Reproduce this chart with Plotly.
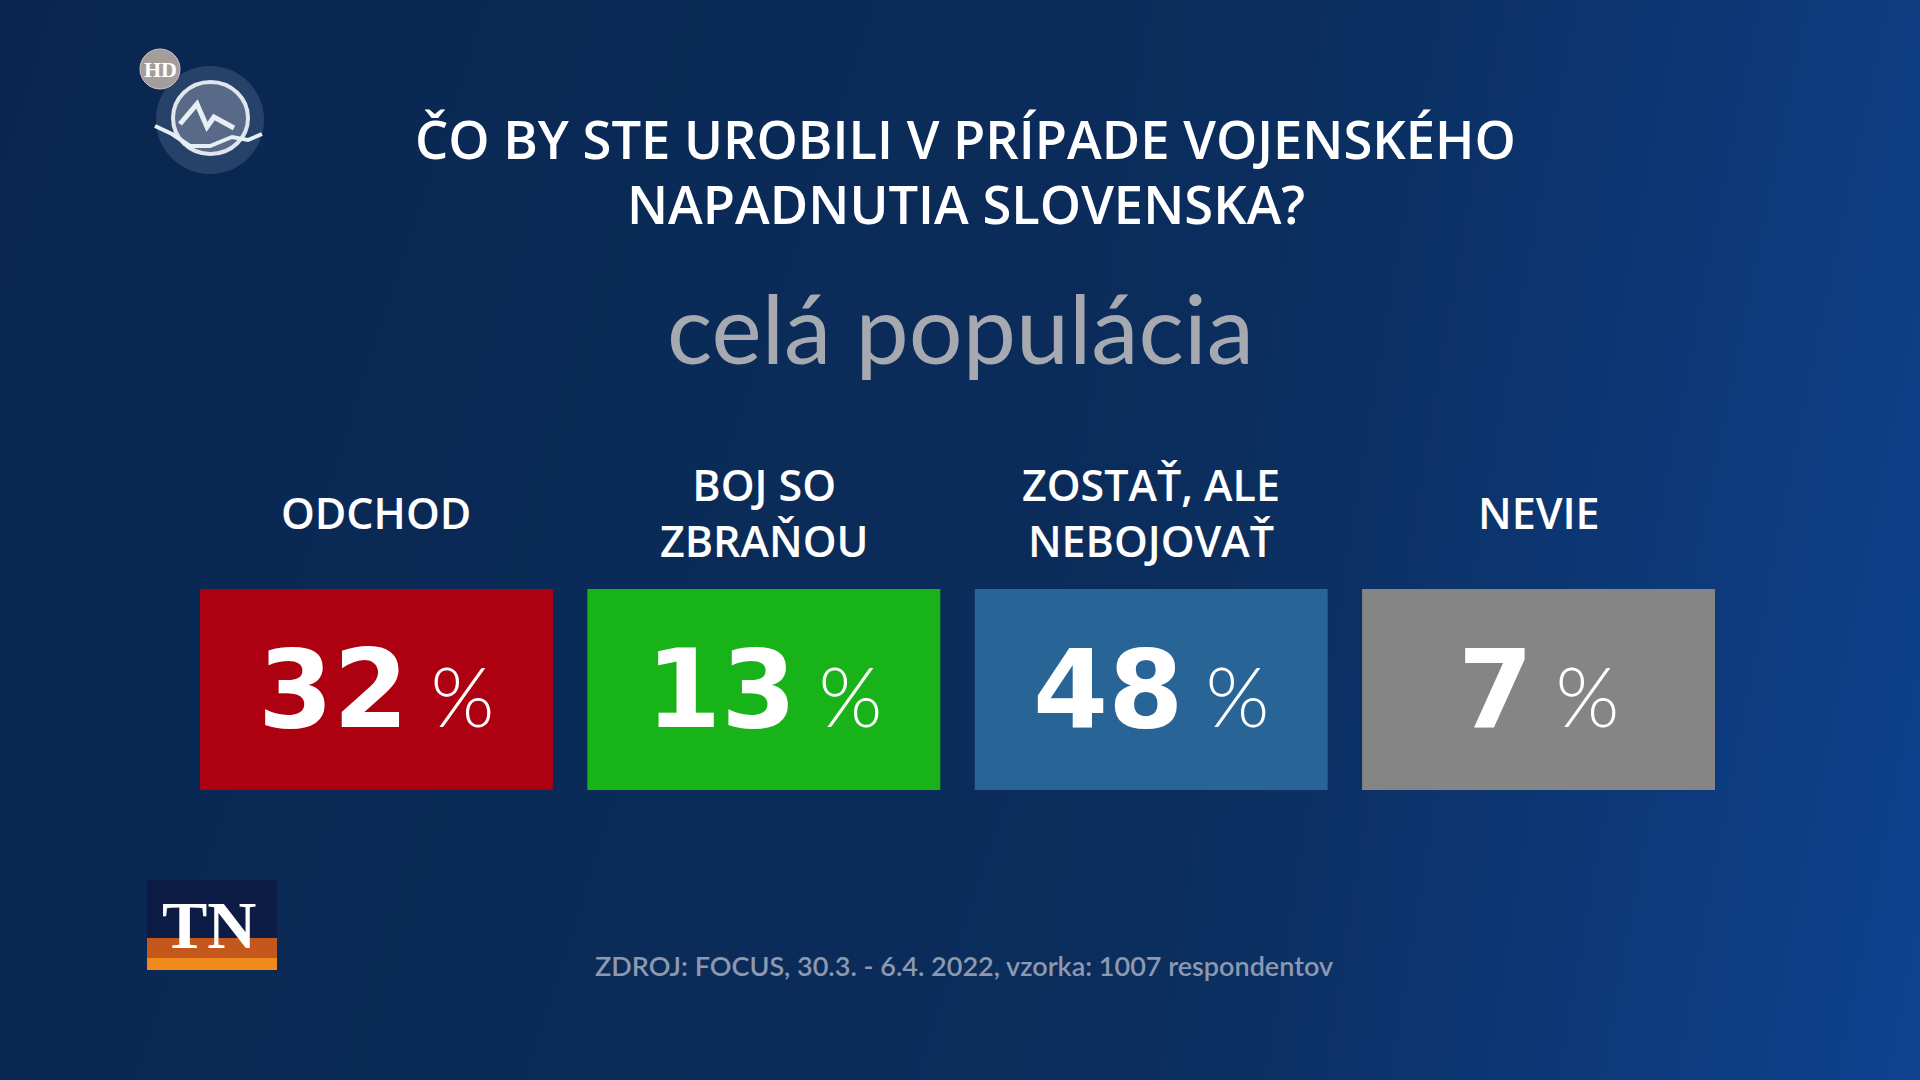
"""
Survey tiles: what would people do if Slovakia were invaded.
"""

import plotly.graph_objects as go

# data
categories = ["ODCHOD", "BOJ SO<br>ZBRAŇOU", "ZOSTAŤ, ALE<br>NEBOJOVAŤ", "NEVIE"]
values = [32, 13, 48, 7]
tile_height = [1, 1, 1, 1]
tile_colors = ["#ad0011", "#18b318", "#296497", "#858585"]

title_lines = ["ČO BY STE UROBILI V PRÍPADE VOJENSKÉHO", "NAPADNUTIA SLOVENSKA?"]
subtitle = "celá populácia"
source = "ZDROJ: FOCUS, 30.3. - 6.4. 2022, vzorka: 1007 respondentov"

# background gradient (corners, left -> right)
bg_x = [0, 0.55, 1]
bg_y = [0, 1]
bg_z = [[0.1, 0.4, 1.0],
        [0.0, 0.3, 0.85]]

W, H = 1920, 1080


def px(x, y):
    """pixel position -> paper coords"""
    return x / W, 1 - y / H


fig = go.Figure()

# background on the first axes so the tiles sit on top of it
fig.add_trace(go.Heatmap(
    x=bg_x, y=bg_y, z=bg_z, zsmooth="best", showscale=False,
    colorscale=[[0, "#0a2650"], [0.5, "#0b2f60"], [1, "#0e4290"]],
    hoverinfo="skip", xaxis="x", yaxis="y",
))

# the four tiles
fig.add_trace(go.Bar(
    x=categories, y=tile_height, width=0.911,
    marker=dict(color=tile_colors, line=dict(width=0)),
    hoverinfo="skip", xaxis="x2", yaxis="y2",
))

annotations = []

# numbers inside tiles
for cat, v in zip(categories, values):
    annotations.append(dict(
        x=cat, y=0.50, xref="x2", yref="y2", showarrow=False,
        text=(f"<b>{v}</b>"
              f"<span style='font-size:82px;font-weight:300;font-family:Lato'> %</span>"),
        font=dict(family="DejaVu Sans", size=108, color="white"),
        xanchor="center", yanchor="middle",
    ))
    # label above tile
    annotations.append(dict(
        x=cat, y=1.383, xref="x2", yref="y2", showarrow=False,
        text=cat, align="center",
        font=dict(family="Open Sans", size=43, color="white", weight=600),
        xanchor="center", yanchor="middle",
    ))

# title lines
for line, ty in zip(title_lines, [0.8718, 0.8116]):
    annotations.append(dict(
        x=0.503, y=ty, xref="paper", yref="paper", showarrow=False,
        text=line, font=dict(family="Open Sans", size=52.5, color="white", weight=600),
        xanchor="center", yanchor="middle",
    ))

annotations.append(dict(
    x=0.5, y=0.697, xref="paper", yref="paper", showarrow=False,
    text=subtitle, font=dict(family="Lato", size=95, color="#a7a9b0", weight=400),
    xanchor="center", yanchor="middle",
))

annotations.append(dict(
    x=0.502, y=0.106, xref="paper", yref="paper", showarrow=False,
    text=source, font=dict(family="Lato", size=27, color="#8d99b0", weight=600),
    xanchor="center", yanchor="middle",
))

# channel logos (decoration)
shapes = []

# markiza circle
cx, cy = 210, 120
x0, y0 = px(cx - 54, cy - 54)
x1, y1 = px(cx + 54, cy + 54)
shapes.append(dict(type="circle", xref="paper", yref="paper", x0=x0, y0=y1, x1=x1, y1=y0,
                   fillcolor="rgba(110,130,160,0.30)", line=dict(width=0)))
x0, y0 = px(cx - 37, cy - 38)
x1, y1 = px(cx + 38, cy + 34)
shapes.append(dict(type="circle", xref="paper", yref="paper", x0=x0, y0=y1, x1=x1, y1=y0,
                   fillcolor="rgba(130,140,160,0.55)", line=dict(color="#dfe6ef", width=4)))
mpts = [(180, 124), (197, 104), (207, 127), (214, 117), (234, 128)]
path = "M " + " L ".join(f"{px(a, b)[0]},{px(a, b)[1]}" for a, b in mpts)
shapes.append(dict(type="path", xref="paper", yref="paper", path=path,
                   line=dict(color="#e8eef5", width=5)))
wpts = [(155, 126), (172, 134), (190, 146), (210, 146), (232, 137), (248, 140), (262, 134)]
path = "M " + " L ".join(f"{px(a, b)[0]},{px(a, b)[1]}" for a, b in wpts)
shapes.append(dict(type="path", xref="paper", yref="paper", path=path,
                   line=dict(color="#e8eef5", width=4)))

# HD badge
x0, y0 = px(140, 49)
x1, y1 = px(180, 89)
shapes.append(dict(type="circle", xref="paper", yref="paper", x0=x0, y0=y1, x1=x1, y1=y0,
                   fillcolor="#a59d9c", line=dict(color="#c9c3c2", width=1)))
annotations.append(dict(
    x=px(160, 69)[0], y=px(160, 69)[1], xref="paper", yref="paper", showarrow=False,
    text="<b>HD</b>", font=dict(family="Liberation Serif", size=22, color="white"),
    xanchor="center", yanchor="middle",
))

# TN box
x0, y0 = px(147, 880)
x1, y1 = px(277, 970)
shapes.append(dict(type="rect", xref="paper", yref="paper", x0=x0, y0=y1, x1=x1, y1=y0,
                   fillcolor="#0d1c44", line=dict(width=0)))
x0, y0 = px(147, 938)
shapes.append(dict(type="rect", xref="paper", yref="paper", x0=x0, y0=y1, x1=x1, y1=y0,
                   fillcolor="#c4571c", line=dict(width=0)))
x0, y0 = px(147, 958)
shapes.append(dict(type="rect", xref="paper", yref="paper", x0=x0, y0=y1, x1=x1, y1=y0,
                   fillcolor="#f08a1c", line=dict(width=0)))
annotations.append(dict(
    x=px(209, 925)[0], y=px(209, 925)[1], xref="paper", yref="paper", showarrow=False,
    text="<b>TN</b>", font=dict(family="Liberation Serif", size=68, color="white"),
    xanchor="center", yanchor="middle",
))

fig.update_layout(
    width=W, height=H,
    margin=dict(l=0, r=0, t=0, b=0),
    paper_bgcolor="#0b2c5a",
    plot_bgcolor="rgba(0,0,0,0)",
    showlegend=False,
    xaxis=dict(domain=[0, 1], range=[0, 1], visible=False, fixedrange=True),
    yaxis=dict(domain=[0, 1], range=[0, 1], visible=False, fixedrange=True),
    xaxis2=dict(domain=[0.0952, 0.9022], range=[-0.5, 3.5], type="category",
                visible=False, anchor="y2"),
    # tiles are 0..1, labels live above them up to 1.6
    yaxis2=dict(domain=[0.2685, 0.5663], range=[0, 1.6], visible=False, anchor="x2"),
    annotations=annotations,
    shapes=shapes,
)

fig.write_html("out.html", config={"displayModeBar": False},
               post_script="document.body.style.margin='0';")
